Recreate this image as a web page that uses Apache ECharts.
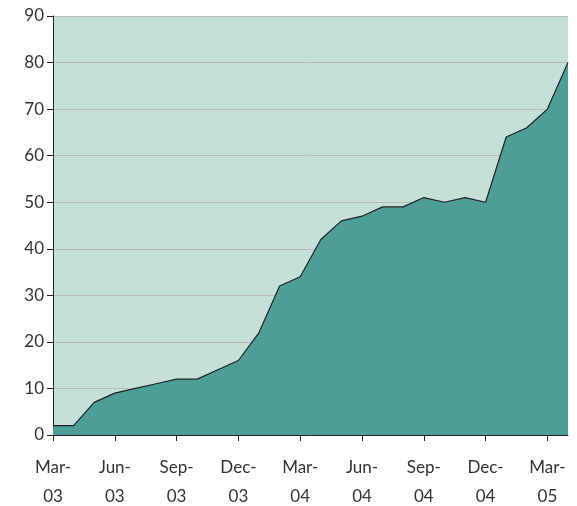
<!DOCTYPE html>
<html>
<head>
<meta charset="utf-8">
<script src="https://cdn.jsdelivr.net/npm/echarts@6/dist/echarts.min.js"></script>
<style>
  html, body { margin: 0; padding: 0; background: #fff; }
  #chart { width: 577px; height: 506px; }
</style>
</head>
<body>
<div id="chart"></div>
<script>
// monthly categories, Mar-03 .. Apr-05
const months = ['Mar-03','Apr-03','May-03','Jun-03','Jul-03','Aug-03','Sep-03','Oct-03','Nov-03','Dec-03',
  'Jan-04','Feb-04','Mar-04','Apr-04','May-04','Jun-04','Jul-04','Aug-04','Sep-04','Oct-04','Nov-04','Dec-04',
  'Jan-05','Feb-05','Mar-05','Apr-05']
const values = [2,2,7,9,10,11,12,12,14,16,22,32,34,42,46,47,49,49,51,50,51,50,64,66,70,80]
const yTicks = [0,10,20,30,40,50,60,70,80,90]

const chart = echarts.init(document.getElementById('chart'))
chart.setOption({
  animation: false,
  grid: {
    left: 53, right: 9, top: 16, bottom: 71,
    outerBoundsMode: 'none',
    containLabel: false,
    show: true,
    backgroundColor: '#c5e0d7',
    borderWidth: 0
  },
  xAxis: {
    type: 'category',
    boundaryGap: false,
    data: months,
    axisLine: { lineStyle: { color: '#222', width: 1 } },
    axisTick: { interval: 2, length: 6, lineStyle: { color: '#222' } },
    axisLabel: {
      interval: 2,
      margin: 18,
      fontFamily: 'Lato',
      fontSize: 17,
      lineHeight: 29,
      color: '#333',
      formatter: v => v.replace('-', '-\n')
    }
  },
  yAxis: {
    type: 'value',
    min: yTicks[0],
    max: yTicks[yTicks.length - 1],
    interval: 10,
    axisLine: { show: true, lineStyle: { color: '#222', width: 1 } },
    axisTick: { show: true, length: 6, lineStyle: { color: '#222' } },
    axisLabel: { margin: 9, fontFamily: 'Lato', fontSize: 17, color: '#333' },
    splitLine: { lineStyle: { color: '#bbbbbb', width: 1 } }
  },
  series: [{
    type: 'line',
    data: values,
    symbol: 'none',
    lineStyle: { color: '#222', width: 1.2 },
    areaStyle: { color: '#4e9e98', opacity: 1 }
  }]
})
</script>
</body>
</html>
